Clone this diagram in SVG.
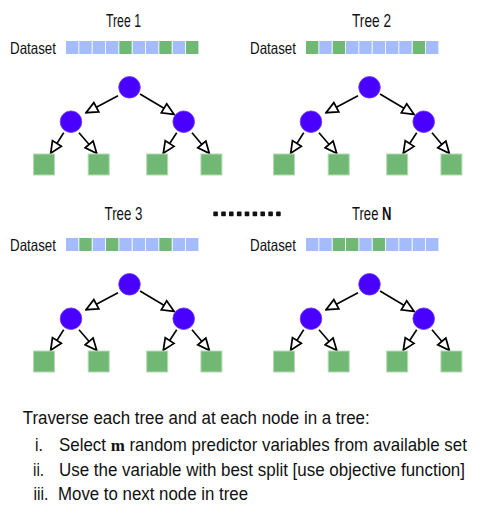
<svg xmlns="http://www.w3.org/2000/svg" width="482" height="522" viewBox="0 0 482 522">
  <style>
    .txt { font-family: "Liberation Sans", Arial, sans-serif; fill: #111; }
    .title { font-size: 18.5px; }
    .mid { text-anchor: middle; }
    .ds { font-size: 16.5px; }
    .body { font-size: 17.5px; }
    .bold { font-weight: bold; }
    .em { font-weight: bold; font-family: "Liberation Serif", serif; }
    .b { fill: #a4bcfc; }
    .g { fill: #70b874; }
    .split { fill: #4a00ff; stroke: #6b3dff; stroke-width: 0.8; }
    .leaf { fill: #70b874; stroke: #b4dcb4; stroke-width: 1; }
    .edge { stroke: #000; stroke-width: 1.6; fill: none; marker-end: url(#open); }
    .dot { fill: #111; }
  </style>
  <defs>
    <marker id="open" markerUnits="userSpaceOnUse" markerWidth="14" markerHeight="14" viewBox="-1 -1 12 11" refX="10" refY="4.5" orient="auto">
      <path d="M0,0 L10,4.5 L0,9 Z" fill="#fff" stroke="#000" stroke-width="1.5" stroke-linejoin="miter"/>
    </marker>
  </defs>

  <!-- titles -->
  <g id="titles" class="txt title">
    <text class="mid" x="123.5" y="26.5" textLength="35" lengthAdjust="spacingAndGlyphs">Tree 1</text>
    <text class="mid" x="371.5" y="26.5" textLength="39" lengthAdjust="spacingAndGlyphs">Tree 2</text>
    <text class="mid" x="123.5" y="220" textLength="38" lengthAdjust="spacingAndGlyphs">Tree 3</text>
    <text transform="translate(352,220) scale(0.707,1)">Tree <tspan class="bold">N</tspan></text>
  </g>

  <!-- ellipsis between tree 3 and tree N -->
  <g id="ellipsis">
    <rect class="dot" x="213.3" y="211.6" width="4.6" height="4.6" rx="0.8"/>
    <rect class="dot" x="221.2" y="211.6" width="4.6" height="4.6" rx="0.8"/>
    <rect class="dot" x="229.0" y="211.6" width="4.6" height="4.6" rx="0.8"/>
    <rect class="dot" x="236.9" y="211.6" width="4.6" height="4.6" rx="0.8"/>
    <rect class="dot" x="244.7" y="211.6" width="4.6" height="4.6" rx="0.8"/>
    <rect class="dot" x="252.6" y="211.6" width="4.6" height="4.6" rx="0.8"/>
    <rect class="dot" x="260.4" y="211.6" width="4.6" height="4.6" rx="0.8"/>
    <rect class="dot" x="268.3" y="211.6" width="4.6" height="4.6" rx="0.8"/>
    <rect class="dot" x="276.1" y="211.6" width="4.6" height="4.6" rx="0.8"/>
  </g>

  <!-- bootstrap samples -->
  <g id="dataset-1">
    <text class="txt ds" x="10" y="54" textLength="46" lengthAdjust="spacingAndGlyphs">Dataset</text>
    <rect class="b" x="66" y="41" width="12.4" height="13"/>
    <rect class="b" x="79.3" y="41" width="12.4" height="13"/>
    <rect class="b" x="92.7" y="41" width="12.4" height="13"/>
    <rect class="b" x="106" y="41" width="12.4" height="13"/>
    <rect class="g" x="119.3" y="41" width="12.4" height="13"/>
    <rect class="b" x="132.7" y="41" width="12.4" height="13"/>
    <rect class="b" x="146" y="41" width="12.4" height="13"/>
    <rect class="g" x="159.3" y="41" width="12.4" height="13"/>
    <rect class="b" x="172.7" y="41" width="12.4" height="13"/>
    <rect class="g" x="186" y="41" width="12.4" height="13"/>
  </g>
  <g id="dataset-2">
    <text class="txt ds" x="250" y="54" textLength="46" lengthAdjust="spacingAndGlyphs">Dataset</text>
    <rect class="g" x="306" y="41" width="12.4" height="13"/>
    <rect class="b" x="319.3" y="41" width="12.4" height="13"/>
    <rect class="g" x="332.7" y="41" width="12.4" height="13"/>
    <rect class="b" x="346" y="41" width="12.4" height="13"/>
    <rect class="b" x="359.3" y="41" width="12.4" height="13"/>
    <rect class="b" x="372.7" y="41" width="12.4" height="13"/>
    <rect class="b" x="386" y="41" width="12.4" height="13"/>
    <rect class="b" x="399.3" y="41" width="12.4" height="13"/>
    <rect class="g" x="412.7" y="41" width="12.4" height="13"/>
    <rect class="b" x="426" y="41" width="12.4" height="13"/>
  </g>
  <g id="dataset-3">
    <text class="txt ds" x="10" y="251" textLength="46" lengthAdjust="spacingAndGlyphs">Dataset</text>
    <rect class="b" x="66" y="238" width="12.4" height="13"/>
    <rect class="g" x="79.3" y="238" width="12.4" height="13"/>
    <rect class="b" x="92.7" y="238" width="12.4" height="13"/>
    <rect class="g" x="106" y="238" width="12.4" height="13"/>
    <rect class="b" x="119.3" y="238" width="12.4" height="13"/>
    <rect class="b" x="132.7" y="238" width="12.4" height="13"/>
    <rect class="b" x="146" y="238" width="12.4" height="13"/>
    <rect class="g" x="159.3" y="238" width="12.4" height="13"/>
    <rect class="b" x="172.7" y="238" width="12.4" height="13"/>
    <rect class="b" x="186" y="238" width="12.4" height="13"/>
  </g>
  <g id="dataset-n">
    <text class="txt ds" x="250" y="251" textLength="46" lengthAdjust="spacingAndGlyphs">Dataset</text>
    <rect class="b" x="306" y="238" width="12.4" height="13"/>
    <rect class="b" x="319.3" y="238" width="12.4" height="13"/>
    <rect class="g" x="332.7" y="238" width="12.4" height="13"/>
    <rect class="g" x="346" y="238" width="12.4" height="13"/>
    <rect class="b" x="359.3" y="238" width="12.4" height="13"/>
    <rect class="g" x="372.7" y="238" width="12.4" height="13"/>
    <rect class="b" x="386" y="238" width="12.4" height="13"/>
    <rect class="b" x="399.3" y="238" width="12.4" height="13"/>
    <rect class="b" x="412.7" y="238" width="12.4" height="13"/>
    <rect class="b" x="426" y="238" width="12.4" height="13"/>
  </g>

  <!-- connectors -->
  <g id="connectors">
    <g transform="translate(0,0)">
      <path class="edge" d="M118,95.7 L86,112.7"/>
      <path class="edge" d="M140,94 L174,114.3"/>
      <path class="edge" d="M63.7,132.7 L50.7,153.3"/>
      <path class="edge" d="M79,132.7 L96.7,153.3"/>
      <path class="edge" d="M176.7,132.7 L163.3,153.3"/>
      <path class="edge" d="M192,132.7 L209.3,153.3"/>
    </g>
    <g transform="translate(240,0)">
      <path class="edge" d="M118,95.7 L86,112.7"/>
      <path class="edge" d="M140,94 L174,114.3"/>
      <path class="edge" d="M63.7,132.7 L50.7,153.3"/>
      <path class="edge" d="M79,132.7 L96.7,153.3"/>
      <path class="edge" d="M176.7,132.7 L163.3,153.3"/>
      <path class="edge" d="M192,132.7 L209.3,153.3"/>
    </g>
    <g transform="translate(0,197)">
      <path class="edge" d="M118,95.7 L86,112.7"/>
      <path class="edge" d="M140,94 L174,114.3"/>
      <path class="edge" d="M63.7,132.7 L50.7,153.3"/>
      <path class="edge" d="M79,132.7 L96.7,153.3"/>
      <path class="edge" d="M176.7,132.7 L163.3,153.3"/>
      <path class="edge" d="M192,132.7 L209.3,153.3"/>
    </g>
    <g transform="translate(240,197)">
      <path class="edge" d="M118,95.7 L86,112.7"/>
      <path class="edge" d="M140,94 L174,114.3"/>
      <path class="edge" d="M63.7,132.7 L50.7,153.3"/>
      <path class="edge" d="M79,132.7 L96.7,153.3"/>
      <path class="edge" d="M176.7,132.7 L163.3,153.3"/>
      <path class="edge" d="M192,132.7 L209.3,153.3"/>
    </g>
  </g>

  <!-- tree 1 -->
  <g id="tree-1">
    <g id="t1-root"><circle class="split" cx="129.5" cy="87.3" r="10.8"/></g>
    <g id="t1-left"><circle class="split" cx="71" cy="121.7" r="10.8"/></g>
    <g id="t1-right"><circle class="split" cx="183.7" cy="121.7" r="10.8"/></g>
    <g id="t1-leaf1"><rect class="leaf" x="33.5" y="154" width="21" height="21"/></g>
    <g id="t1-leaf2"><rect class="leaf" x="88.2" y="154" width="21" height="21"/></g>
    <g id="t1-leaf3"><rect class="leaf" x="146.7" y="154" width="21" height="21"/></g>
    <g id="t1-leaf4"><rect class="leaf" x="200.9" y="154" width="21" height="21"/></g>
  </g>
  <!-- tree 2 -->
  <g id="tree-2" transform="translate(240,0)">
    <g id="t2-root"><circle class="split" cx="129.5" cy="87.3" r="10.8"/></g>
    <g id="t2-left"><circle class="split" cx="71" cy="121.7" r="10.8"/></g>
    <g id="t2-right"><circle class="split" cx="183.7" cy="121.7" r="10.8"/></g>
    <g id="t2-leaf1"><rect class="leaf" x="33.5" y="154" width="21" height="21"/></g>
    <g id="t2-leaf2"><rect class="leaf" x="88.2" y="154" width="21" height="21"/></g>
    <g id="t2-leaf3"><rect class="leaf" x="146.7" y="154" width="21" height="21"/></g>
    <g id="t2-leaf4"><rect class="leaf" x="200.9" y="154" width="21" height="21"/></g>
  </g>
  <!-- tree 3 -->
  <g id="tree-3" transform="translate(0,197)">
    <g id="t3-root"><circle class="split" cx="129.5" cy="87.3" r="10.8"/></g>
    <g id="t3-left"><circle class="split" cx="71" cy="121.7" r="10.8"/></g>
    <g id="t3-right"><circle class="split" cx="183.7" cy="121.7" r="10.8"/></g>
    <g id="t3-leaf1"><rect class="leaf" x="33.5" y="154" width="21" height="21"/></g>
    <g id="t3-leaf2"><rect class="leaf" x="88.2" y="154" width="21" height="21"/></g>
    <g id="t3-leaf3"><rect class="leaf" x="146.7" y="154" width="21" height="21"/></g>
    <g id="t3-leaf4"><rect class="leaf" x="200.9" y="154" width="21" height="21"/></g>
  </g>
  <!-- tree N -->
  <g id="tree-n" transform="translate(240,197)">
    <g id="tn-root"><circle class="split" cx="129.5" cy="87.3" r="10.8"/></g>
    <g id="tn-left"><circle class="split" cx="71" cy="121.7" r="10.8"/></g>
    <g id="tn-right"><circle class="split" cx="183.7" cy="121.7" r="10.8"/></g>
    <g id="tn-leaf1"><rect class="leaf" x="33.5" y="154" width="21" height="21"/></g>
    <g id="tn-leaf2"><rect class="leaf" x="88.2" y="154" width="21" height="21"/></g>
    <g id="tn-leaf3"><rect class="leaf" x="146.7" y="154" width="21" height="21"/></g>
    <g id="tn-leaf4"><rect class="leaf" x="200.9" y="154" width="21" height="21"/></g>
  </g>

  <!-- procedure notes -->
  <g id="notes" class="txt body">
    <text x="22.7" y="424" textLength="347" lengthAdjust="spacingAndGlyphs">Traverse each tree and at each node in a tree:</text>
    <text x="35" y="451" textLength="8" lengthAdjust="spacingAndGlyphs">i.</text>
    <text transform="translate(59,451) scale(0.9666,1)">Select <tspan class="em">m</tspan> random predictor variables from available set</text>
    <text x="33" y="476" textLength="11" lengthAdjust="spacingAndGlyphs">ii.</text>
    <text x="59" y="476" textLength="406" lengthAdjust="spacingAndGlyphs">Use the variable with best split [use objective function]</text>
    <text x="33.5" y="500" textLength="15" lengthAdjust="spacingAndGlyphs">iii.</text>
    <text x="58" y="500" textLength="190" lengthAdjust="spacingAndGlyphs">Move to next node in tree</text>
  </g>
</svg>
